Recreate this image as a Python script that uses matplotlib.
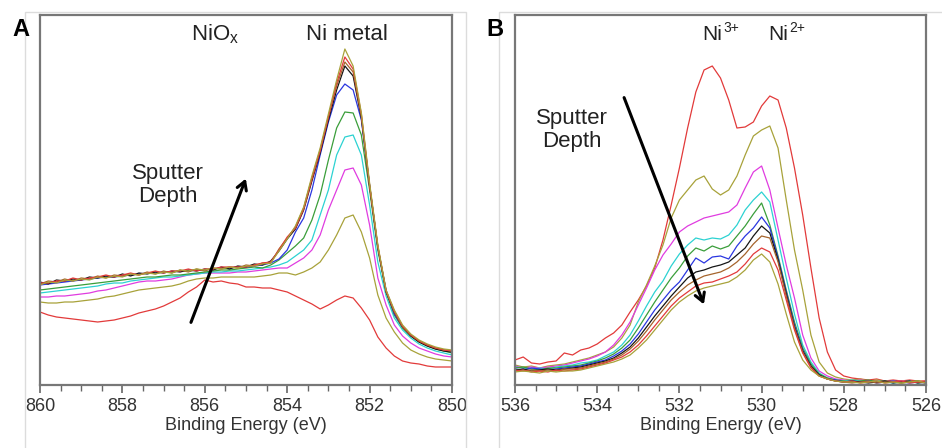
import numpy as np
import matplotlib
matplotlib.use("Agg")
import matplotlib.pyplot as plt
from matplotlib.patches import Rectangle
from matplotlib.ticker import MultipleLocator

plt.rcParams['font.family'] = ['Liberation Sans', 'DejaVu Sans']
plt.rcParams['mathtext.fontset'] = 'custom'
plt.rcParams['mathtext.rm'] = 'Liberation Sans'
plt.rcParams['mathtext.it'] = 'Liberation Sans'

# binding energy grids (eV)
ni_energy = np.linspace(860, 850, 51)
o_energy = np.linspace(536, 526, 51)

# Ni 2p3/2 spectra, arbitrary units, scan 0 = surface ... scan 9 = deepest
ni0 = [73, 70, 68, 67, 66, 65, 64, 63, 64, 65, 67, 69, 72, 74, 76, 79, 83, 87, 93, 98,
       105, 103, 104, 102, 101, 98, 98, 97, 97, 95, 93, 89, 85, 81, 76, 80, 85, 89, 87, 77,
       65, 48, 37, 29, 24, 22, 21, 19, 18, 18, 18]
ni1 = [83, 82, 82, 83, 83, 84, 85, 86, 88, 89, 91, 93, 95, 96, 97, 98, 99, 101, 104, 106,
       107, 107, 108, 108, 108, 108, 108, 109, 110, 112, 112, 110, 113, 117, 123, 135, 150, 167, 170, 153,
       127, 90, 67, 53, 42, 35, 31, 28, 26, 25, 24]
ni2 = [88, 88, 89, 89, 90, 91, 92, 94, 95, 97, 99, 101, 103, 104, 104, 105, 106, 108, 110, 111,
       112, 112, 112, 112, 113, 113, 114, 115, 116, 117, 117, 122, 127, 135, 150, 175, 195, 215, 217, 200,
       160, 107, 80, 60, 49, 42, 37, 34, 31, 29, 28]
ni3 = [92, 93, 94, 95, 96, 97, 98, 99, 101, 102, 102, 104, 105, 106, 107, 108, 108, 109, 110, 111,
       112, 113, 113, 114, 114, 115, 116, 117, 118, 120, 123, 129, 135, 145, 170, 195, 230, 248, 250, 230,
       180, 123, 89, 67, 55, 47, 41, 37, 34, 32, 30]
ni4 = [95, 96, 97, 98, 99, 100, 101, 102, 103, 104, 105, 106, 107, 108, 108, 109, 110, 110, 111, 112,
       113, 114, 115, 115, 116, 117, 118, 117, 120, 125, 132, 139, 147, 165, 190, 225, 257, 273, 272, 250,
       195, 135, 93, 70, 57, 49, 43, 39, 36, 34, 32]
ni5 = [100, 101, 102, 103, 104, 105, 106, 107, 108, 108, 109, 110, 111, 112, 112, 113, 113, 114, 114, 115,
       115, 116, 117, 117, 118, 118, 119, 120, 122, 126, 135, 153, 167, 195, 230, 263, 290, 301, 295, 265,
       200, 137, 95, 71, 58, 50, 44, 40, 37, 35, 33]
ni6 = [103, 101, 105, 104, 106, 105, 108, 107, 109, 108, 111, 109, 112, 111, 113, 112, 114, 113, 115, 114,
       116, 115, 118, 116, 119, 118, 121, 120, 124, 134, 146, 156, 175, 204, 232, 265, 295, 319, 309, 267,
       199, 138, 93, 73, 58, 49, 43, 39, 36, 34, 33]
ni7 = [101, 104, 103, 106, 104, 107, 106, 109, 107, 110, 109, 111, 110, 113, 111, 114, 112, 115, 113, 116,
       114, 117, 116, 118, 117, 120, 119, 122, 122, 136, 147, 158, 177, 207, 235, 268, 299, 323, 313, 269,
       199, 138, 94, 73, 58, 50, 44, 40, 37, 35, 34]
ni8 = [102, 102, 104, 104, 107, 105, 107, 108, 110, 108, 110, 112, 110, 112, 114, 112, 114, 114, 116, 114,
       116, 116, 118, 118, 118, 118, 120, 122, 123, 135, 148, 157, 176, 206, 234, 268, 302, 328, 316, 271,
       200, 139, 94, 74, 59, 50, 44, 40, 37, 35, 34]
ni9 = [100, 103, 102, 105, 104, 106, 105, 108, 107, 109, 108, 111, 110, 112, 111, 113, 112, 115, 114, 116,
       115, 117, 116, 118, 117, 119, 119, 121, 122, 134, 146, 159, 178, 209, 237, 271, 305, 336, 319, 272,
       202, 140, 95, 75, 60, 51, 45, 41, 38, 36, 35]

# O 1s spectra, arbitrary units
o0 = [25, 28, 22, 21, 23, 24, 32, 30, 35, 37, 41, 47, 52, 60, 73, 85, 99, 117, 145, 180,
      217, 257, 293, 315, 319, 307, 285, 257, 258, 263, 279, 289, 285, 257, 217, 170, 117, 67, 33, 15,
      9, 7, 6, 5, 6, 4, 5, 4, 5, 4, 4]
o1 = [20, 18, 19, 17, 19, 20, 21, 23, 25, 27, 30, 33, 38, 47, 60, 83, 100, 119, 140, 167,
      185, 195, 205, 209, 196, 190, 195, 209, 230, 249, 255, 259, 237, 185, 135, 95, 50, 23, 12, 8,
      6, 5, 6, 4, 5, 4, 3, 4, 3, 4, 3]
o2 = [19, 17, 18, 17, 18, 19, 20, 22, 24, 26, 29, 33, 40, 50, 63, 80, 97, 115, 130, 141,
      153, 159, 163, 167, 169, 171, 173, 180, 197, 213, 219, 195, 157, 120, 87, 50, 27, 14, 9, 6,
      5, 4, 5, 4, 3, 4, 3, 4, 3, 3, 3]
o3 = [18, 17, 16, 17, 16, 18, 19, 20, 22, 23, 25, 29, 33, 40, 50, 64, 79, 93, 104, 119,
      131, 140, 147, 145, 147, 146, 150, 160, 175, 185, 193, 183, 145, 107, 71, 40, 23, 12, 7, 5,
      4, 5, 4, 3, 4, 3, 2, 3, 4, 2, 3]
o4 = [17, 18, 16, 15, 17, 17, 18, 19, 20, 22, 24, 27, 31, 37, 45, 57, 70, 83, 95, 107,
      117, 129, 137, 134, 139, 136, 139, 149, 159, 171, 182, 160, 129, 95, 63, 37, 21, 11, 7, 5,
      4, 3, 4, 5, 3, 4, 3, 2, 3, 4, 2]
o5 = [16, 15, 17, 16, 15, 16, 17, 18, 19, 21, 23, 25, 29, 34, 41, 51, 63, 75, 85, 95,
      103, 115, 127, 122, 128, 129, 126, 139, 149, 157, 168, 157, 127, 93, 60, 35, 19, 10, 6, 5,
      3, 4, 3, 4, 2, 3, 4, 3, 2, 3, 2]
o6 = [15, 16, 14, 15, 16, 15, 16, 17, 18, 20, 22, 24, 27, 32, 38, 47, 58, 69, 79, 89,
      98, 107, 113, 115, 118, 120, 123, 130, 137, 149, 159, 152, 125, 91, 58, 34, 19, 10, 6, 4,
      3, 4, 3, 2, 3, 4, 2, 3, 4, 2, 3]
o7 = [15, 14, 15, 14, 15, 14, 16, 16, 17, 19, 21, 23, 26, 30, 36, 44, 54, 65, 75, 85,
      93, 100, 105, 109, 111, 113, 117, 123, 131, 141, 149, 147, 123, 89, 57, 33, 18, 9, 6, 4,
      3, 2, 3, 4, 2, 3, 3, 2, 3, 3, 2]
o8 = [14, 15, 13, 14, 13, 15, 14, 15, 16, 18, 20, 22, 25, 28, 33, 40, 49, 59, 69, 79,
      87, 93, 99, 102, 103, 106, 109, 113, 121, 131, 137, 133, 115, 85, 55, 32, 17, 9, 6, 4,
      3, 4, 2, 3, 4, 2, 3, 4, 2, 3, 4]
o9 = [13, 14, 13, 12, 14, 13, 14, 14, 15, 17, 19, 21, 23, 26, 30, 37, 45, 55, 65, 75,
      83, 89, 94, 97, 99, 101, 103, 108, 115, 125, 131, 123, 101, 71, 43, 25, 15, 9, 6, 4,
      3, 3, 2, 3, 4, 2, 3, 2, 3, 4, 2]

scan_colors = ['#e23a3a', '#a8a23a', '#e03ce0', '#2cd2d2', '#3a9e3a',
               '#2a36e0', '#151515', '#a5642c', '#e23a3a', '#a8a23a']

fig = plt.figure(figsize=(9.42, 4.48), dpi=100)

# light panel frames
fig.patches.append(Rectangle((25 / 942, -0.01), 441 / 942, 1 - 12 / 448 + 0.01,
                             transform=fig.transFigure, fill=False,
                             edgecolor='#dcdcdc', lw=1.0))
fig.patches.append(Rectangle((499 / 942, -0.01), 445 / 942, 1 - 12 / 448 + 0.01,
                             transform=fig.transFigure, fill=False,
                             edgecolor='#dcdcdc', lw=1.0))

ax_a = fig.add_axes([40 / 942, 1 - 385 / 448, 412 / 942, 370 / 448])
ax_b = fig.add_axes([515 / 942, 1 - 385 / 448, 411 / 942, 370 / 448])


def style_axis(ax, xmax, xmin):
    ax.set_xlim(xmax, xmin)
    ax.set_ylim(0, 370)
    ax.set_yticks([])
    ax.xaxis.set_major_locator(MultipleLocator(2))
    ax.xaxis.set_minor_locator(MultipleLocator(0.5))
    ax.tick_params(axis='x', which='major', direction='out', length=6, width=1.2,
                   color='#666666', labelsize=13, labelcolor='#333333', pad=3)
    ax.tick_params(axis='x', which='minor', direction='out', length=4, width=1.0,
                   color='#666666')
    for sp in ax.spines.values():
        sp.set_color('#777777')
        sp.set_linewidth(1.6)
    ax.set_xlabel('Binding Energy (eV)', fontsize=13, color='#333333', labelpad=2)


def ion_label(ax, x, y, charge):
    # "Ni" with a small raised charge, drawn as two texts
    ax.text(x, y, 'Ni', fontsize=15, color=txt, ha='right', va='center')
    ax.annotate(charge, xy=(x, y), xytext=(0.5, 4), textcoords='offset points',
                fontsize=10, color=txt, ha='left', va='center')


ni_scans = [ni0, ni1, ni2, ni3, ni4, ni5, ni6, ni7, ni8, ni9]
o_scans = [o0, o1, o2, o3, o4, o5, o6, o7, o8, o9]

for scan, col in zip(ni_scans, scan_colors):
    ax_a.plot(ni_energy, scan, color=col, lw=0.9)
for scan, col in zip(o_scans, scan_colors):
    ax_b.plot(o_energy, scan, color=col, lw=0.9)

style_axis(ax_a, 860, 850)
style_axis(ax_b, 536, 526)

txt = '#222222'
ax_a.text(855.75, 351, r'NiO$_\mathrm{x}$', fontsize=16, color=txt, ha='center', va='center')
ax_a.text(852.55, 351, 'Ni metal', fontsize=16, color=txt, ha='center', va='center')
ax_a.text(856.9, 200, 'Sputter\nDepth', fontsize=16, color=txt, ha='center', va='center',
          linespacing=1.15)
ax_a.annotate('', xy=(854.98, 209), xytext=(856.36, 60),
              arrowprops=dict(arrowstyle='->,head_length=0.6,head_width=0.35',
                              color='black', lw=2.2))

ion_label(ax_b, 530.95, 351, '3+')
ion_label(ax_b, 529.35, 351, '2+')
ax_b.text(534.61, 255, 'Sputter\nDepth', fontsize=16, color=txt, ha='center', va='center',
          linespacing=1.15)
ax_b.annotate('', xy=(531.38, 78), xytext=(533.37, 290),
              arrowprops=dict(arrowstyle='->,head_length=0.6,head_width=0.35',
                              color='black', lw=2.2))

fig.text(12 / 942, 1 - 30 / 448, 'A', fontsize=17, fontweight='bold', va='center')
fig.text(486 / 942, 1 - 30 / 448, 'B', fontsize=17, fontweight='bold', va='center')

fig.savefig('out.png', dpi=100)
